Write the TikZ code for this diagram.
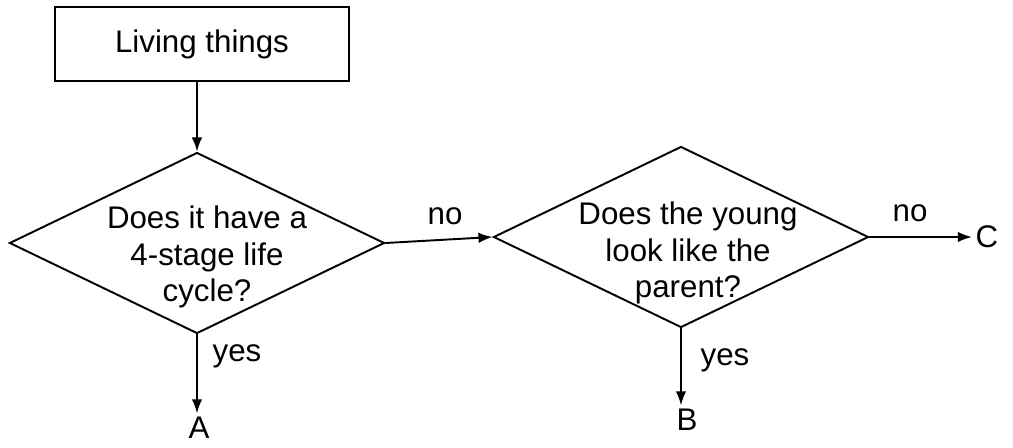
\documentclass[tikz,border=0pt]{standalone}
\usepackage{fontspec}
\setmainfont{Liberation Sans}
\usetikzlibrary{arrows.meta,positioning,shapes.geometric}

\begin{document}
\begin{tikzpicture}[
    startbox/.style={rectangle, draw, line width=1.1pt, minimum width=5.88cm, minimum height=1.48cm},
    decision/.style={diamond, draw, line width=1.1pt, inner sep=0pt,
                     minimum width=7.5cm, minimum height=3.62cm},
    question/.style={align=center, inner sep=0pt},
    branch/.style={inner sep=0pt},
    outcome/.style={inner sep=2pt},
    arrow/.style={-{Latex[length=8pt,width=6pt]}, line width=1.1pt},
    every node/.style={font=\fontsize{17.8}{21}\selectfont}
]
\useasboundingbox (0,0) rectangle (20.26,-8.94);

% Start
\node[startbox] (living) at (4.04,-0.88) {Living things};

% Decisions
\node[decision] (q1) at (3.94,-4.86) {};
\node[question] (q1text) at (4.14,-5.14) {Does it have a\\4-stage life\\cycle?};
\node[decision] (q2) at (13.62,-4.74) {};
\node[question] (q2text) at (13.76,-5.06) {Does the young\\look like the\\parent?};

% Outcomes
\node[outcome] (A) at (3.98,-8.56) {A};
\node[outcome] (B) at (13.74,-8.4) {B};
\node[outcome] (C) at (19.74,-4.74) {C};

% Branch labels
\node[branch] (no1) at (8.9,-4.32) {no};
\node[branch] (yes1) at (4.74,-7.12) {yes};
\node[branch] (no2) at (18.2,-4.26) {no};
\node[branch] (yes2) at (14.5,-7.2) {yes};

% Arrows
\draw[arrow] (living.south -| q1.north) -- (q1.north);
\draw[arrow] (q1.east) -- (q2.west);
\draw[arrow] (q1.south) -- (q1.south |- A.north);
\draw[arrow] (q2.east) -- (C.west);
\draw[arrow] (q2.south) -- (q2.south |- B.north);

\end{tikzpicture}
\end{document}
